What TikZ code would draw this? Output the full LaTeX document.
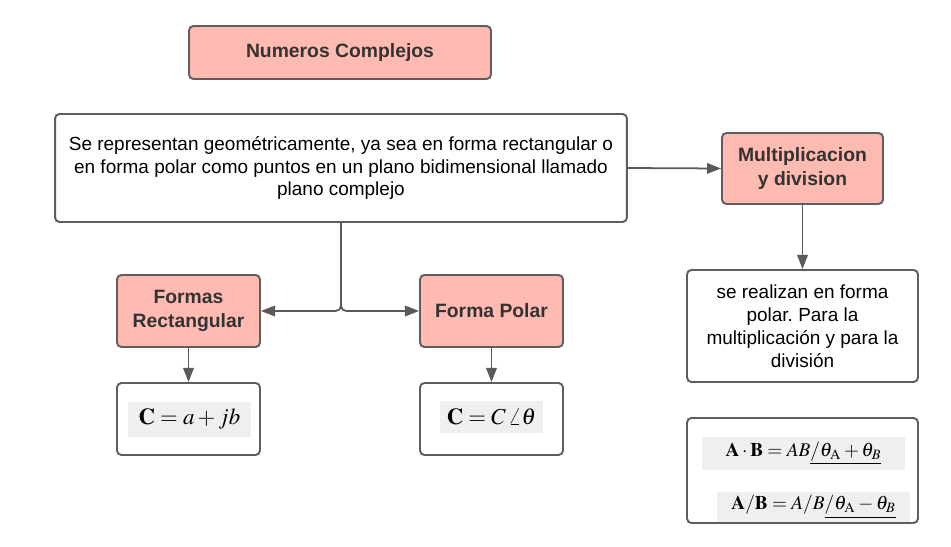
\documentclass[tikz,border=0pt]{standalone}
\usepackage{mathptmx}
\usepackage[no-math]{fontspec}
\setmainfont{Liberation Sans}
\usetikzlibrary{positioning}
\usetikzlibrary{arrows.meta}
\frenchspacing

\definecolor{rosa}{HTML}{FFBBB1}
\definecolor{borde}{HTML}{5E5E5E}
\definecolor{linea}{HTML}{5A5A5A}
\definecolor{gris}{HTML}{EFEFEF}
\definecolor{texto}{HTML}{333333}

\begin{document}
\begin{tikzpicture}[x=0.02cm,y=-0.02cm,
  caja/.style={draw=borde,line width=1.1pt,rounded corners=2.5pt,align=center,inner sep=0pt},
  rosa/.style={caja,fill=rosa,text=texto,font=\fontsize{11}{13.6}\selectfont\bfseries},
  blanca/.style={caja,fill=white,font=\fontsize{10.8}{13}\selectfont},
  formula/.style={fill=gris,inner sep=0pt,font=\fontsize{13}{15}\selectfont},
  flecha/.style={draw=linea,line width=1pt,-{Triangle[length=8pt,width=6pt]}}]
 \useasboundingbox (0,0) rectangle (951,547);
 % cajas de arriba
 \node[rosa,minimum width=6.04cm,minimum height=1.06cm] (titulo) at (340,52.5) {Numeros Complejos};
 \node[blanca,minimum width=11.44cm,minimum height=2.16cm] (repr) at (341,168)
   {Se representan geométricamente, ya sea en forma rectangular o\\
    en forma polar como puntos en un plano bidimensional llamado\\
    plano complejo};
 \node[rosa,minimum width=3.22cm,minimum height=1.42cm] (multi) at (802.5,168.5) {Multiplicacion\\y division};
 \node[blanca,minimum width=4.62cm,minimum height=2.24cm] (realizan) at (802.5,326)
   {se realizan en forma\\polar. Para la\\multiplicación y para la\\división};
 % formas
 \node[rosa,minimum width=2.86cm,minimum height=1.44cm] (rect) at (188.5,311) {Formas\\Rectangular};
 \node[rosa,minimum width=2.86cm,minimum height=1.44cm] (polar) at (491.5,311) {Forma Polar};
 \node[blanca,minimum width=2.86cm,minimum height=1.44cm] (frect) at (188.5,419) {};
 \node[blanca,minimum width=2.86cm,minimum height=1.44cm] (fpolar) at (491.5,419) {};
 \node[blanca,minimum width=4.62cm,minimum height=2.1cm] (fmult) at (802.5,470.5) {};
 % formulas
 \node[formula,minimum width=2.46cm,minimum height=0.7cm] (ecrect) at (189.5,419.5) {$\mathbf{C}=a+jb$};
 \node[formula,minimum width=2.06cm,minimum height=0.66cm] (ecpolar) at (491.5,417) {$\mathbf{C}=C\,\angle\theta$};
 \node[formula,font=\fontsize{11}{13}\selectfont,minimum width=4.06cm,minimum height=0.66cm] (ecmul) at (803.5,453.5)
   {$\mathbf{A}\cdot\mathbf{B}=AB\underline{/\theta_{\mathrm{A}}+\theta_B}$};
 \node[formula,font=\fontsize{11}{13}\selectfont,minimum width=3.86cm,minimum height=0.6cm] (ecdiv) at (813.5,507)
   {$\mathbf{A/B}=A/B\underline{/\theta_{\mathrm{A}}-\theta_B}$};
 % conectores
 \draw[flecha] (repr.east) -- (multi.west);
 \draw[flecha] (multi.south) -- (realizan.north);
 \draw[flecha,rounded corners=3pt] (repr.south) -- (repr.south |- rect.east) -- (rect.east);
 \draw[flecha,rounded corners=3pt] (repr.south) -- (repr.south |- polar.west) -- (polar.west);
 \draw[flecha] (rect.south) -- (frect.north);
 \draw[flecha] (polar.south) -- (fpolar.north);
\end{tikzpicture}
\end{document}
